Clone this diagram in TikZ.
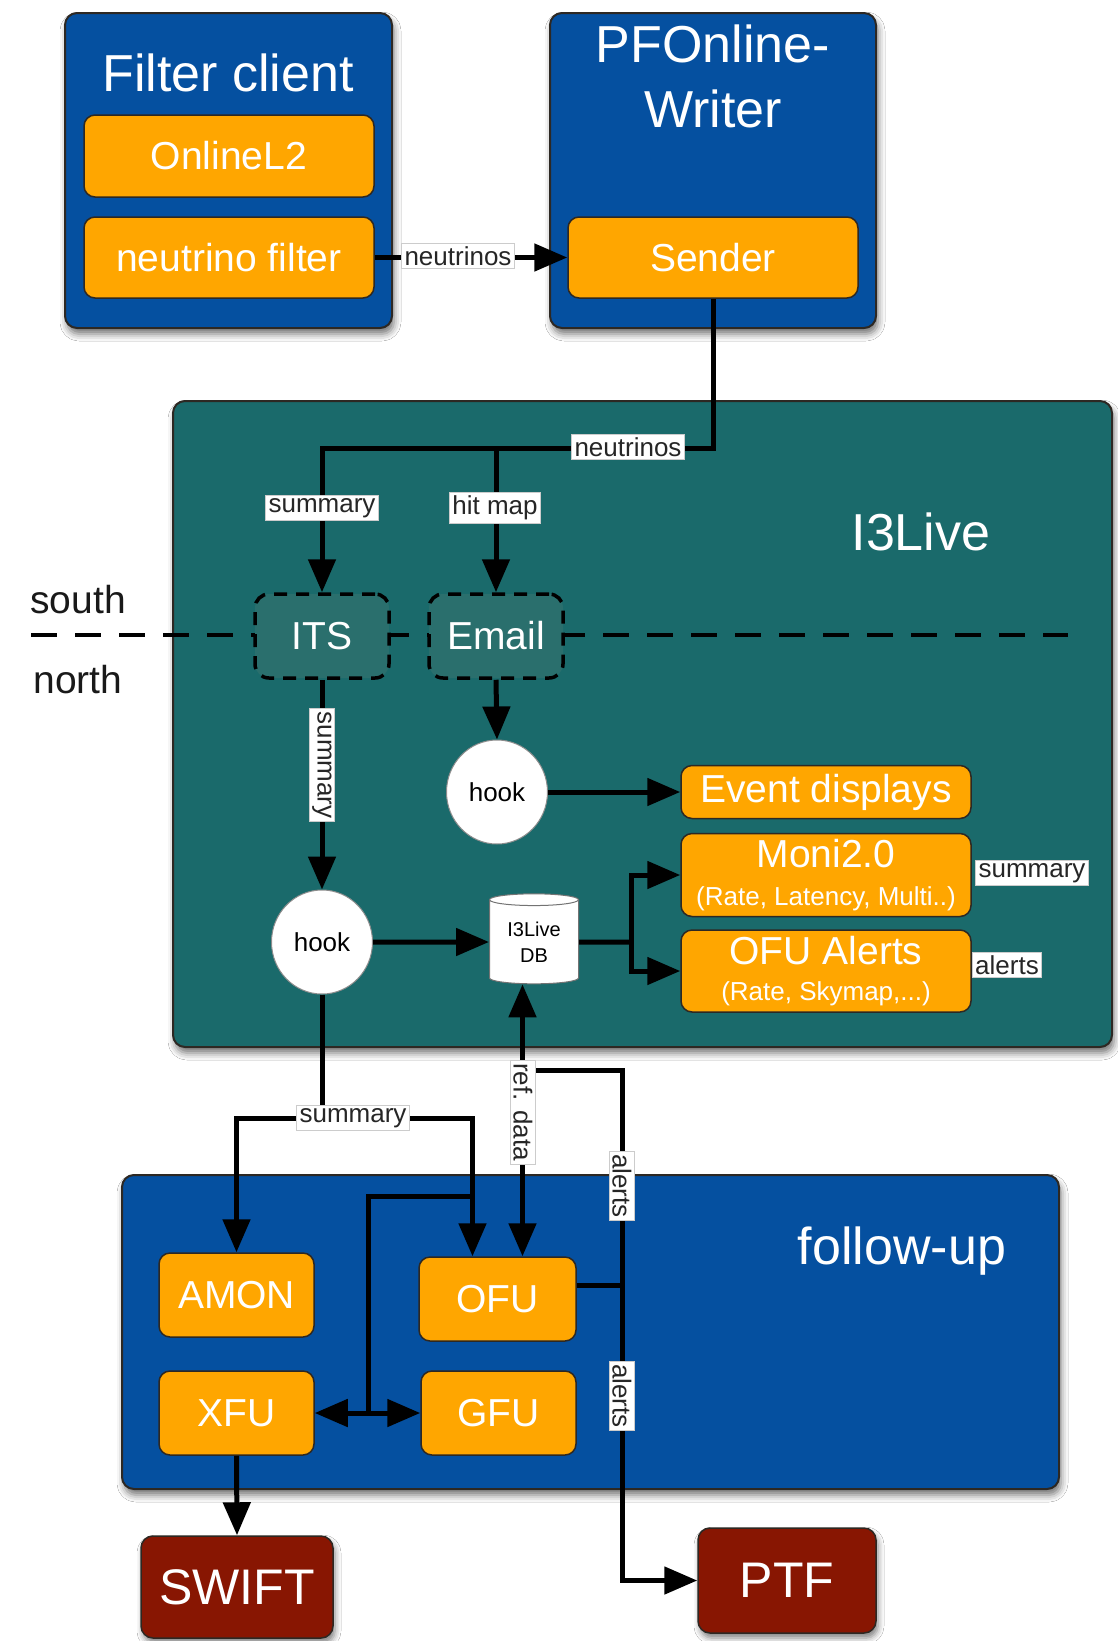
\documentclass[tikz,border=0pt]{standalone}
\usepackage{fontspec}
\setmainfont{Liberation Sans}
\usetikzlibrary{shapes.geometric,arrows.meta,shadows,shadows.blur,calc}
\definecolor{cblue}{RGB}{5,80,160}
\definecolor{cteal}{RGB}{26,106,107}
\definecolor{cteall}{RGB}{42,111,109}
\definecolor{corange}{RGB}{255,166,0}
\definecolor{cred}{RGB}{136,22,2}
\definecolor{cborder}{RGB}{45,40,35}
\newcommand\myhuge{\fontsize{52}{65}\selectfont}
\newcommand\mybig{\fontsize{39}{44}\selectfont}
\newcommand\myred{\fontsize{50}{56}\selectfont}
\newcommand\mysub{\fontsize{26}{30}\selectfont}
\newcommand\mylbl{\fontsize{26}{30}\selectfont}
\newcommand\mydb{\fontsize{20}{26}\selectfont}
\tikzset{
  container/.style={draw=cborder, line width=2pt, rounded corners=12pt, inner sep=0pt,
    blur shadow={shadow xshift=2pt, shadow yshift=-6pt, shadow blur radius=7pt, shadow opacity=55}},
  obox/.style={draw=cborder, line width=1.5pt, rounded corners=11pt, fill=corange,
    text=white, align=center, inner sep=0pt, font=\mybig},
  rbox/.style={draw=cborder, line width=1.5pt, rounded corners=12pt, fill=cred,
    text=white, font=\myred, inner sep=0pt,
    blur shadow={shadow xshift=2pt, shadow yshift=-5pt, shadow blur radius=6pt, shadow opacity=50}},
  dbox/.style={draw=black, line width=3.5pt, dash pattern=on 13pt off 9pt,
    rounded corners=14pt, fill=cteall, text=white, font=\mybig,
    minimum width=134pt, minimum height=84pt, inner sep=0pt},
  hookc/.style={ellipse, fill=white, draw=black!45, line width=1pt,
    minimum width=101pt, minimum height=104pt, inner sep=0pt, font=\mylbl},
  dbs/.style={cylinder, shape border rotate=90, aspect=0.22, draw=black!55,
    line width=1pt, cylinder uses custom fill, cylinder body fill=white,
    cylinder end fill=white, minimum width=89pt, minimum height=90pt,
    inner sep=0pt, align=center, font=\mydb},
  lbl/.style={fill=white, draw=black!20, line width=0.8pt, font=\mylbl,
    text=black!85, inner sep=3pt},
  conn/.style={line width=5pt, draw=black},
  arr/.style={-{Triangle[length=33pt,width=27pt]}},
  arrb/.style={{Triangle[length=33pt,width=27pt]}-{Triangle[length=33pt,width=27pt]}},
  ttl/.style={text=white, font=\myhuge, inner sep=0pt}
}
\begin{document}
\begin{tikzpicture}[x=1pt,y=-1pt]
\useasboundingbox (0,0) rectangle (1118,1641);
\fill[white] (0,0) rectangle (1118,1641);
% containers
\node[container, fill=cblue, minimum width=327pt, minimum height=315pt] (fc) at (228.5,170.5) {};
\node[container, fill=cblue, minimum width=326pt, minimum height=315pt] (pfw) at (713,170.5) {};
\node[container, fill=cteal, minimum width=939pt, minimum height=646pt] (i3) at (642.5,724) {};
\node[container, fill=cblue, minimum width=937pt, minimum height=314pt] (fu) at (590.5,1332) {};
% titles
\node[ttl] (fct) at (228,73) {Filter client};
\node[ttl, align=center] (pfwt) at (713,76) {PFOnline-\\Writer};
\node[ttl] (i3t) at (921,532) {I3Live};
\node[ttl] (fut) at (902,1251) {follow-up};
% top boxes
\node[obox, minimum width=290pt, minimum height=82pt] (l2) at (229,156) {OnlineL2};
\node[obox, minimum width=290pt, minimum height=81pt] (nf) at (229,257.5) {neutrino filter};
\node[obox, minimum width=290pt, minimum height=81pt] (snd) at (713,257.5) {Sender};
% south / north divider
\coordinate (dl) at (31,635);
\coordinate (dr) at (1068,635);
\draw[line width=4.5pt, dash pattern=on 26pt off 18pt] (dl) -- (dr);
\node[font=\mybig, text=black!90] (so) at (78,600) {south};
\node[font=\mybig, text=black!90] (no) at (78,680) {north};
\node[dbox] (its) at (322,636) {ITS};
\node[dbox] (em) at (496,636) {Email};
% I3Live internals
\node[hookc] (h1) at (497,792) {hook};
\node[hookc] (h2) at (322,942) {hook};
\node[dbs] (db) at (534,942) {I3Live\\DB};
\node[obox, minimum width=290pt, minimum height=53pt] (ev) at (826,792) {Event displays};
\node[obox, minimum width=290pt, minimum height=83pt] (mo) at (826,875) {Moni2.0\\[-6pt]{\mysub (Rate, Latency, Multi..)}};
\node[obox, minimum width=290pt, minimum height=82pt] (oa) at (826,971) {OFU Alerts\\[-8pt]{\mysub (Rate, Skymap,...)}};
\node[lbl] (msum) at (1032,873) {summary};
\node[lbl] (oal) at (1007,965) {alerts};
% follow-up
\node[obox, minimum width=155pt, minimum height=84pt] (amon) at (236.5,1295) {AMON};
\node[obox, minimum width=157pt, minimum height=84pt] (ofu) at (497.5,1299) {OFU};
\node[obox, minimum width=155pt, minimum height=84pt] (xfu) at (236.5,1413) {XFU};
\node[obox, minimum width=155pt, minimum height=84pt] (gfu) at (498.5,1413) {GFU};
\node[rbox, minimum width=192pt, minimum height=102pt] (swift) at (237,1587) {SWIFT};
\node[rbox, minimum width=178pt, minimum height=105pt] (ptf) at (787,1580.5) {PTF};
% connectors
\draw[conn,arr] (nf.east) -- (snd.west);
\coordinate (nj) at (713,448);
\draw[conn,arr] (snd.south) -- (nj) -| (its.north);
\draw[conn,arr] (em.north |- nj) -- (em.north);
\draw[conn,arr] (its.south) -- (h2.north);
\draw[conn,arr] (em.south) -- (h1.north);
\draw[conn,arr] (h1.east) -- (ev.west);
\draw[conn,arr] (h2.east) -- (db.west);
\coordinate (dbj) at (631,942);
\draw[conn] (db.east) -- (dbj);
\draw[conn,arr] (dbj) |- (mo.west);
\draw[conn,arr] (dbj) |- (oa.west);
\coordinate (sj) at (322,1118);
\coordinate (ofuin) at ($(ofu.north)+(-25,0)$);
\coordinate (ofurd) at ($(ofu.north)+(25,0)$);
\draw[conn] (h2.south) -- (sj);
\draw[conn,arr] (sj) -| (amon.north);
\draw[conn,arr] (sj) -| (ofuin);
\coordinate (bj) at (ofuin |- 0,1196);
\coordinate (bx) at (368,1196);
\draw[conn] (bj) -- (bx) -- (bx |- xfu.east);
\draw[conn,arrb] (xfu.east) -- (gfu.west);
\draw[conn,arrb] (ofurd) -- (ofurd |- db.south);
\coordinate (aj) at (622,1285);
\coordinate (at) at (622,1070);
\draw[conn] (ofu.east |- aj) -- (aj) -- (at) -- (ofurd |- at);
\draw[conn,arr] (aj) |- (ptf.west);
\draw[conn,arr] (xfu.south) -- (swift.north);
% connector labels
\node[lbl] (lnf) at (458,256) {neutrinos};
\node[lbl] (lnu) at (628,447) {neutrinos};
\node[lbl] (lsu) at (322,508) {summary};
\node[lbl] (lhm) at (495,508) {hit map};
\node[lbl, rotate=-90] (lsu2) at (322,765) {summary};
\node[lbl] (lsu3) at (353,1118) {summary};
\node[lbl, rotate=-90] (lrd) at (523,1112) {ref. data};
\node[lbl, rotate=-90] (la1) at (622,1186) {alerts};
\node[lbl, rotate=-90] (la2) at (622,1396) {alerts};
\end{tikzpicture}
\end{document}
